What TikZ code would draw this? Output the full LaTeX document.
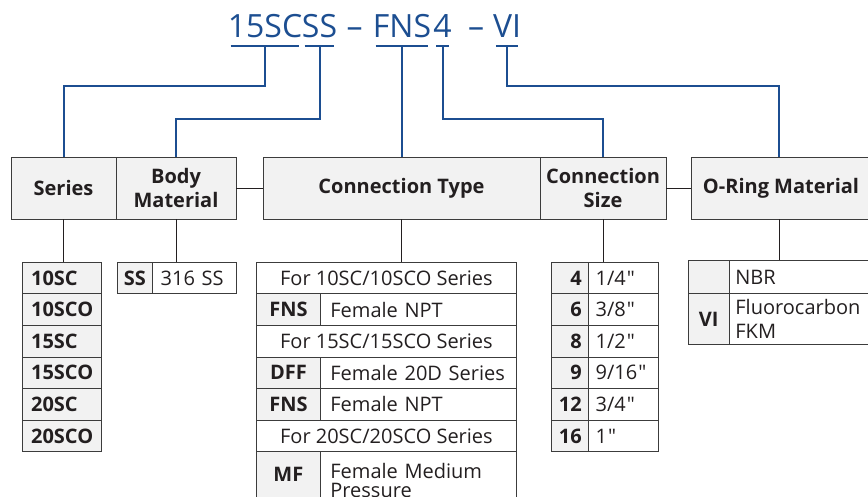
\documentclass[tikz,border=0pt]{standalone}
\usepackage{fontspec}
\setmainfont{Open Sans}[Ligatures=TeXOff]
\definecolor{tblue}{RGB}{28,78,145}
\definecolor{cgray}{RGB}{242,242,242}
\definecolor{linec}{RGB}{60,60,60}
\definecolor{txt}{RGB}{35,31,32}
\newcommand\regf{\fontsize{20}{24}\selectfont}
\newcommand\bldf{\bfseries\fontsize{20}{24}\selectfont}
\tikzset{
 hdr/.style={draw=linec, fill=cgray, line width=0.9pt, minimum height=62pt, inner sep=0pt, font=\bldf, align=center, text=txt},
 cell/.style={draw=linec, line width=0.8pt, anchor=north west, inner ysep=0pt, inner xsep=0pt, minimum height=31.6pt, text=txt, font=\regf},
 gcell/.style={cell, fill=cgray, font=\bldf},
 lcell/.style={cell, align=left},
 lg/.style={gcell, align=left},
 blueline/.style={draw=tblue, line width=2pt},
 link/.style={draw=txt, line width=0.8pt},
 ttl/.style={inner sep=0pt, anchor=base, text=tblue, font=\fontsize{32}{32}\selectfont},
}
\begin{document}
\begin{tikzpicture}[x=1pt,y=-1pt]
\useasboundingbox (0,0) rectangle (868,496);
\clip (0,0) rectangle (868,496);
% title
\node[ttl] (t1) at (265,37) {15SC};
\node[ttl] (t2) at (319.5,37) {SS};
\node[ttl] (d1) at (354.5,37) {–};
\node[ttl] (t3) at (402,37) {FNS};
\node[ttl] (t4) at (442.5,37) {4};
\node[ttl] (d2) at (476,37) {–};
\node[ttl] (t5) at (507,37) {VI};
% headers
\node[hdr, minimum width=105pt] (series) at (63.5,188) {Series};
\node[hdr, minimum width=120pt] (body) at (176,188) {Body\\Material};
\node[hdr, minimum width=277pt] (ctype) at (401.5,188) {Connection Type};
\node[hdr, minimum width=126pt] (csize) at (603,188) {Connection\\Size};
\node[hdr, minimum width=180pt] (oring) at (781,188) {O-Ring Material};
\draw[link] (body.east) -- (ctype.west);
\draw[link] (csize.east) -- (oring.west);
% blue connectors
\foreach \t in {t1,t2,t3,t4,t5} \draw[blueline] ([xshift=3pt]\t.west |- 0,46) -- ([xshift=-3pt]\t.east |- 0,46);
\draw[blueline] (t1 |- 0,46) -- (t1 |- 0,86) -| (series.north);
\draw[blueline] (t2 |- 0,46) -- (t2 |- 0,119) -| (body.north);
\draw[blueline] (t3 |- 0,46) -- (t3 |- ctype.north);
\draw[blueline] (t4 |- 0,46) -- (t4 |- 0,119) -| (csize.north);
\draw[blueline] (t5 |- 0,46) -- (t5 |- 0,86) -| ([xshift=-2pt]oring.north);
% series list
\node[lg, text width=61.6pt, inner xsep=9pt] (s1) at (21.7,261.7) {10SC};
\node[lg, text width=61.6pt, inner xsep=9pt] (s2) at (21.7,293.3) {10SCO};
\node[lg, text width=61.6pt, inner xsep=9pt] (s3) at (21.7,324.9) {15SC};
\node[lg, text width=61.6pt, inner xsep=9pt] (s4) at (21.7,356.5) {15SCO};
\node[lg, text width=61.6pt, inner xsep=9pt] (s5) at (21.7,388.1) {20SC};
\node[lg, text width=61.6pt, inner xsep=9pt] (s6) at (21.7,419.7) {20SCO};
\draw[link] (series.south) -- (series.south |- s1.north);
% body material
\node[gcell, minimum width=35.6pt] (b1) at (116.7,261.7) {SS};
\node[lcell, text width=68pt, inner xsep=8pt] (b2) at (152.3,261.7) {316 SS};
\draw[link] (body.south) -- (body.south |- b1.north);
% connection type
\node[cell, minimum width=260pt] (c1) at (256,261.7) {For 10SC/10SCO Series};
\node[gcell, minimum width=64pt] (c2a) at (256,293.3) {FNS};
\node[lcell, text width=176pt, inner xsep=10pt] (c2b) at (320,293.3) {Female NPT};
\node[cell, minimum width=260pt] (c3) at (256,324.9) {For 15SC/15SCO Series};
\node[gcell, minimum width=64pt] (c4a) at (256,356.5) {DFF};
\node[lcell, text width=176pt, inner xsep=10pt] (c4b) at (320,356.5) {Female 20D Series};
\node[gcell, minimum width=64pt] (c5a) at (256,388.1) {FNS};
\node[lcell, text width=176pt, inner xsep=10pt] (c5b) at (320,388.1) {Female NPT};
\node[cell, minimum width=260pt] (c6) at (256,419.7) {For 20SC/20SCO Series};
\node[gcell, minimum width=64pt, minimum height=46pt] (c7a) at (256,451.3) {MF};
\node[lcell, text width=176pt, inner xsep=10pt, minimum height=58pt, font=\fontsize{20}{18.5}\selectfont] (c7b) at (320,451.3) {Female Medium\\Pressure};
\draw[link] (ctype.south) -- (ctype.south |- c1.north);
% connection size
\node[gcell, align=right, text width=23.3pt, inner xsep=7pt] (z1a) at (551,261.7) {4};
\node[lcell, text width=56pt, inner xsep=7pt] (z1b) at (588.3,261.7) {1/4\kern1pt"};
\node[gcell, align=right, text width=23.3pt, inner xsep=7pt] (z2a) at (551,293.3) {6};
\node[lcell, text width=56pt, inner xsep=7pt] (z2b) at (588.3,293.3) {3/8\kern1pt"};
\node[gcell, align=right, text width=23.3pt, inner xsep=7pt] (z3a) at (551,324.9) {8};
\node[lcell, text width=56pt, inner xsep=7pt] (z3b) at (588.3,324.9) {1/2\kern1pt"};
\node[gcell, align=right, text width=23.3pt, inner xsep=7pt] (z4a) at (551,356.5) {9};
\node[lcell, text width=56pt, inner xsep=7pt] (z4b) at (588.3,356.5) {9/16\kern1pt"};
\node[gcell, align=right, text width=23.3pt, inner xsep=7pt] (z5a) at (551,388.1) {12};
\node[lcell, text width=56pt, inner xsep=7pt] (z5b) at (588.3,388.1) {3/4\kern1pt"};
\node[gcell, align=right, text width=23.3pt, inner xsep=7pt] (z6a) at (551,419.7) {16};
\node[lcell, text width=56pt, inner xsep=7pt] (z6b) at (588.3,419.7) {1\kern1pt"};
\draw[link] (csize.south) -- (csize.south |- z1a.north);
% o-ring
\node[gcell, minimum width=41.3pt, minimum height=33.3pt] (o1a) at (687.7,260) {};
\node[lcell, text width=134pt, inner xsep=6pt, minimum height=33.3pt] (o1b) at (729,260) {NBR};
\node[gcell, minimum width=41.3pt, minimum height=51pt] (o2a) at (687.7,293.3) {VI};
\node[lcell, text width=134pt, inner xsep=6pt, minimum height=51pt] (o2b) at (729,293.3) {Fluorocarbon\\FKM};
\draw[link] ([xshift=-2pt]oring.south) -- ([xshift=-2pt]oring.south |- o1a.north);
\end{tikzpicture}
\end{document}
